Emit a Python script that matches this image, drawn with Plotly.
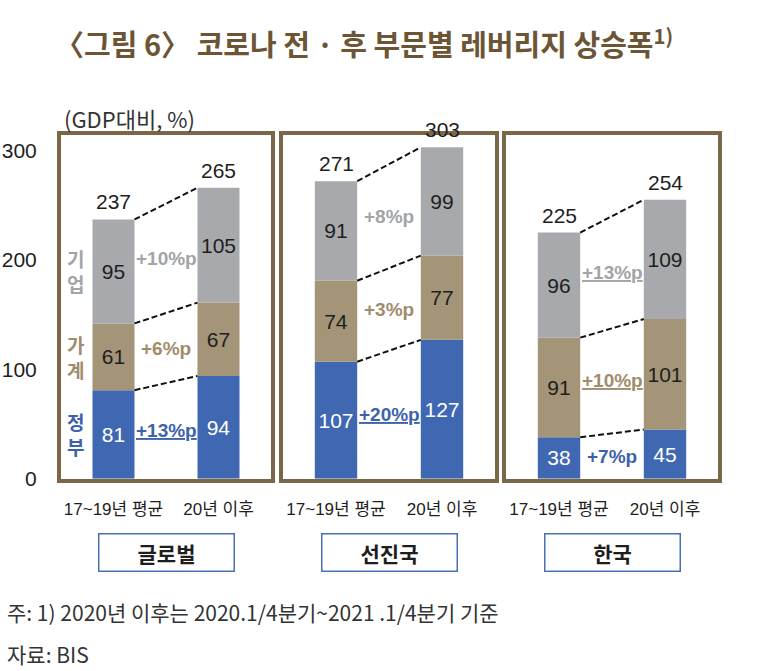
import plotly.graph_objects as go

# ---------------- data ----------------
periods = ["17~19년 평균", "20년 이후"]
regions = ["글로벌", "선진국", "한국"]
sectors = ["정부", "가계", "기업"]
gov = [[81, 94], [107, 127], [38, 45]]
household = [[61, 67], [74, 77], [91, 101]]
corporate = [[95, 105], [91, 99], [96, 109]]
totals = [[237, 265], [271, 303], [225, 254]]
delta_gov = [13, 20, 7]
delta_household = [6, 3, 10]
delta_corporate = [10, 8, 13]
underline_gov = [True, True, False]
underline_household = [False, False, True]
underline_corporate = [False, False, True]
y_ticks = [0, 100, 200, 300]
unit_label = "(GDP대비, %)"
title_text = "〈그림 6〉 코로나 전 · 후 부문별 레버리지 상승폭<sup>1)</sup>"
note_text = "주: 1) 2020년 이후는 2020.1/4분기~2021 .1/4분기 기준"
source_text = "자료: BIS"

# ---------------- style ----------------
W, H = 767, 671
BLUE = "#4068b2"
TAN = "#a49478"
GRAY = "#a7a9ac"
BLUE_T = "#3d62ad"
TAN_T = "#a08c6b"
GRAY_T = "#a2a4a7"
FRAME = "#7a6747"
TITLE_C = "#6b5535"
KR = "Noto Sans CJK KR"
LAT = "Liberation Sans, Arial, " + KR
BAR_W = 0.4
Y_MAX = 314
VS = 0.982  # vertical compensation observed in rendering

px_x = lambda p: p / W
px_y = lambda p: 1 - (p / VS) / H

panel_px = [(61, 271), (283, 495), (506, 718)]
y_dom = [px_y(478), px_y(135)]

fig = go.Figure()
layout = {}
annotations = []

series = [
    (gov, BLUE, "white", delta_gov, underline_gov, BLUE_T),
    (household, TAN, "#1e1e1e", delta_household, underline_household, TAN_T),
    (corporate, GRAY, "#1e1e1e", delta_corporate, underline_corporate, GRAY_T),
]

for pi, region in enumerate(regions):
    sfx = "" if pi == 0 else str(pi + 1)
    xa, ya = "x" + sfx, "y" + sfx
    xpos = list(range(len(periods)))
    cum = [0] * len(periods)
    for si, (vals, col, tcol, deltas, uls, lcol) in enumerate(series):
        v = vals[pi]
        fig.add_trace(go.Bar(
            x=xpos, y=v, base=cum[:], width=BAR_W, xaxis=xa, yaxis=ya,
            marker=dict(color=col, line=dict(width=0)),
            text=[str(t) for t in v], textposition="inside",
            insidetextanchor="middle", textangle=0, constraintext="none",
            textfont=dict(family=LAT, size=21, color=tcol),
            showlegend=False, hoverinfo="skip"))
        centers = [cum[k] + v[k] / 2 for k in range(len(v))]
        new_cum = [cum[k] + v[k] for k in range(len(v))]
        # dashed connector
        fig.add_trace(go.Scatter(
            x=[xpos[0] + BAR_W / 2, xpos[1] - BAR_W / 2],
            y=[new_cum[0], new_cum[1]], mode="lines", xaxis=xa, yaxis=ya,
            line=dict(color="#111111", width=2, dash="6px,3px"),
            showlegend=False, hoverinfo="skip"))
        # delta label
        txt = f"<b>+{deltas[pi]}%p</b>"
        if uls[pi]:
            txt = f"<u>{txt}</u>"
        annotations.append(dict(
            x=0.5, y=sum(centers) / 2, xref=xa, yref=ya, text=txt,
            showarrow=False, yanchor="middle",
            font=dict(family=LAT, size=19, color=lcol)))
        # side sector labels (first panel only)
        if pi == 0:
            annotations.append(dict(
                x=xpos[0] - BAR_W / 2, y=centers[0], xref=xa, yref=ya,
                text="<br>".join(list(sectors[si])), showarrow=False,
                xanchor="right", yanchor="middle", xshift=-7,
                font=dict(family=KR, size=19, color=lcol, weight=600)))
        cum = new_cum
    # totals
    for k in range(len(periods)):
        annotations.append(dict(
            x=xpos[k], y=cum[k], xref=xa, yref=ya, text=str(totals[pi][k]),
            showarrow=False, yanchor="bottom", yshift=4,
            font=dict(family=LAT, size=21, color="#1e1e1e")))
    x0, x1 = panel_px[pi]
    layout["xaxis" + sfx] = dict(
        domain=[px_x(x0), px_x(x1)], anchor=ya, range=[-0.5, 1.5],
        tickvals=xpos, ticktext=periods, showline=True, mirror=True,
        linecolor=FRAME, linewidth=4, showgrid=False, zeroline=False,
        ticks="", ticklabelstandoff=12,
        tickfont=dict(family=LAT, size=17, color="#1e1e1e"), fixedrange=True)
    layout["yaxis" + sfx] = dict(
        domain=y_dom, anchor=xa, range=[0, Y_MAX], tickvals=y_ticks,
        showticklabels=(pi == 0), showline=True, mirror=True,
        linecolor=FRAME, linewidth=4, showgrid=False, zeroline=False,
        ticks="", ticklabelstandoff=16,
        tickfont=dict(family="Liberation Sans, Arial", size=21, color="#1e1e1e"),
        fixedrange=True)
    # region label box
    annotations.append(dict(
        x=px_x((x0 + x1) / 2), y=px_y(551.5), xref="paper", yref="paper",
        text=f"<b>{region}</b>", showarrow=False, width=132, height=34,
        xanchor="center", yanchor="middle",
        bordercolor="#4a6fb5", borderwidth=1.5, borderpad=1,
        font=dict(family=KR, size=21, color="#1e1e1e")))

annotations += [
    dict(x=px_x(364), y=px_y(42), xref="paper", yref="paper", text=f"<b>{title_text}</b>",
         showarrow=False, xanchor="center", yanchor="middle",
         font=dict(family=KR, size=29, color=TITLE_C)),
    dict(x=px_x(62), y=px_y(118), xref="paper", yref="paper", text=unit_label,
         showarrow=False, xanchor="left", yanchor="middle",
         font=dict(family=KR, size=22, color="#333333")),
    dict(x=px_x(5), y=px_y(611), xref="paper", yref="paper", text=note_text,
         showarrow=False, xanchor="left", yanchor="middle",
         font=dict(family=KR, size=21, color="#333333")),
    dict(x=px_x(5), y=px_y(653), xref="paper", yref="paper", text=source_text,
         showarrow=False, xanchor="left", yanchor="middle",
         font=dict(family=KR, size=21, color="#333333")),
]

fig.update_layout(
    width=W, height=H, margin=dict(l=0, r=0, t=0, b=0),
    paper_bgcolor="white", plot_bgcolor="white", barmode="overlay",
    annotations=annotations, font=dict(family=KR), **layout)

fig.write_html("out.html", config={"displayModeBar": False})
